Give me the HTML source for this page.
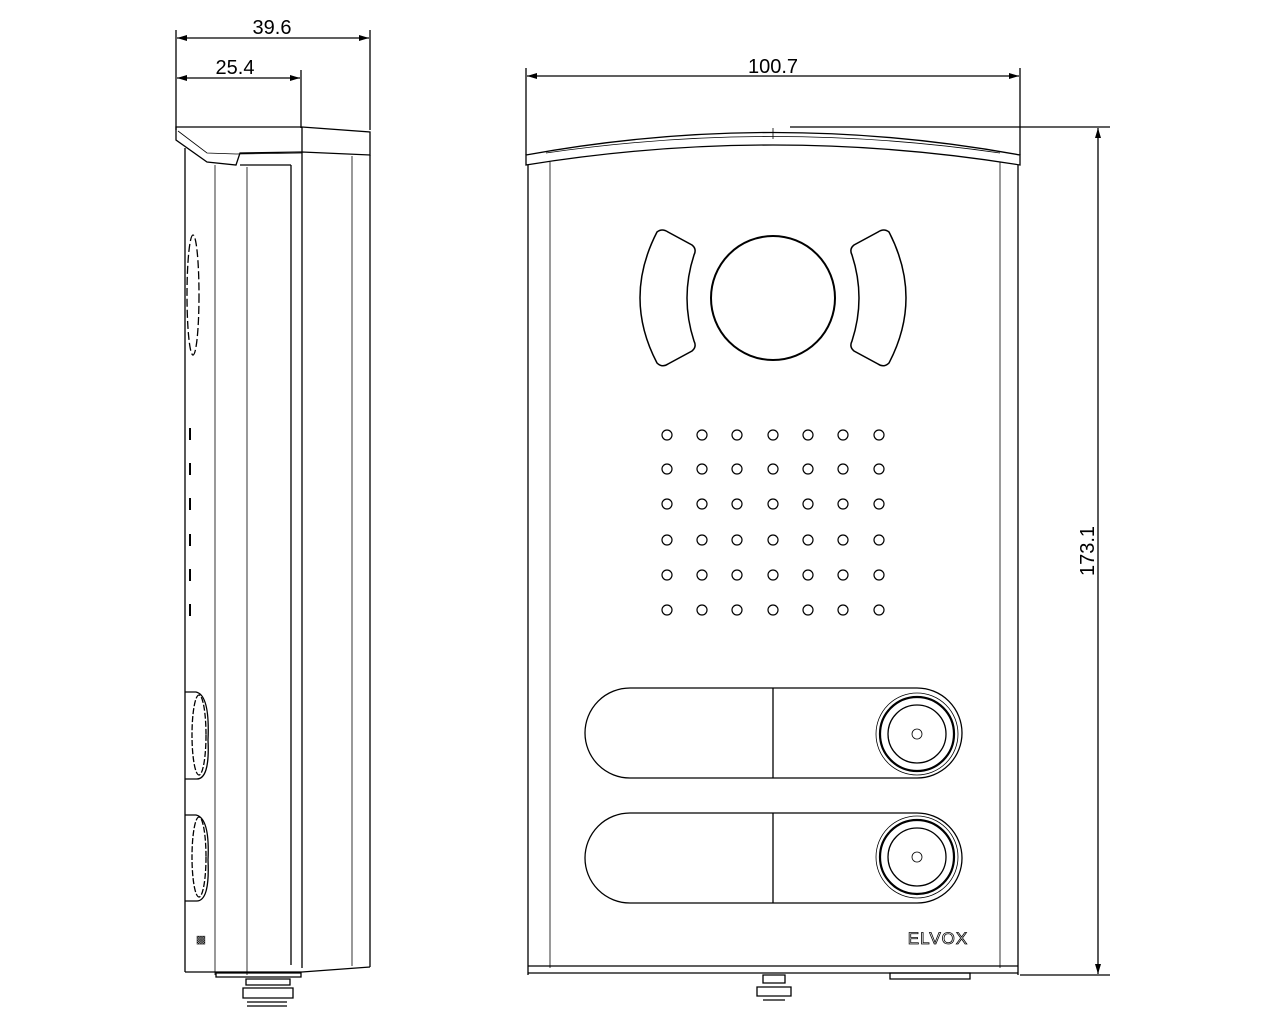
<!DOCTYPE html>
<html><head><style>body{margin:0;background:#fff}svg{display:block}</style></head><body>
<svg width="1280" height="1024" viewBox="0 0 1280 1024" xmlns="http://www.w3.org/2000/svg" font-family="Liberation Sans, sans-serif">
<defs><marker id="a" viewBox="0 0 10 6" refX="10" refY="3" markerWidth="18" markerHeight="6" markerUnits="userSpaceOnUse" orient="auto-start-reverse"><path d="M0,0L10,3L0,6z" fill="#000"/></marker></defs>
<g stroke="#000" stroke-width="1.3" fill="none">
<line x1="176" y1="30" x2="176" y2="130"/><line x1="370" y1="30" x2="370" y2="130"/><line x1="301" y1="70" x2="301" y2="128"/>
<line x1="177" y1="38" x2="369" y2="38" marker-start="url(#a)" marker-end="url(#a)"/>
<line x1="177" y1="78" x2="300" y2="78" marker-start="url(#a)" marker-end="url(#a)"/>
<line x1="526" y1="68" x2="526" y2="155"/><line x1="1020" y1="68" x2="1020" y2="155"/>
<line x1="527" y1="76" x2="1019" y2="76" marker-start="url(#a)" marker-end="url(#a)"/>
<line x1="790" y1="127" x2="1110" y2="127"/><line x1="1020" y1="975" x2="1110" y2="975"/>
<line x1="1098" y1="128" x2="1098" y2="974" marker-start="url(#a)" marker-end="url(#a)"/>
<path d="M176,127 L302,127 L370,132 L370,155 L302,152 L240,153 L236,165 L207,162 L176,140 Z"/>
<path d="M178,131 L207,153 L236,154 L302,153" stroke-width="0.8"/>
<line x1="302" y1="127" x2="302" y2="968"/>
<line x1="185" y1="148" x2="185" y2="972"/>
<line x1="215" y1="165" x2="215" y2="975" stroke-width="0.8"/>
<line x1="247" y1="167" x2="247" y2="975" stroke-width="0.8"/>
<line x1="291" y1="165" x2="291" y2="965"/>
<line x1="352" y1="156" x2="352" y2="966" stroke-width="0.8"/>
<line x1="370" y1="155" x2="370" y2="967"/>
<line x1="240" y1="165" x2="291" y2="165"/>
<path d="M185,972 L302,972 L370,967" />
<path d="M216,973 L301,973 L301,977 L216,977 Z"/>
<ellipse cx="193" cy="295" rx="6" ry="60" stroke-dasharray="8,3"/>
<g stroke-width="2"><line x1="190" y1="428" x2="190" y2="440"/><line x1="190" y1="463" x2="190" y2="475"/><line x1="190" y1="498" x2="190" y2="510"/><line x1="190" y1="534" x2="190" y2="546"/><line x1="190" y1="569" x2="190" y2="581"/><line x1="190" y1="604" x2="190" y2="616"/></g>
<path d="M185,692 L196,692 Q210,695 208,740 Q210,780 196,779 L185,779"/>
<ellipse cx="199" cy="735" rx="7" ry="40" stroke-dasharray="6,2"/>
<path d="M185,815 L196,815 Q210,818 208,860 Q210,902 196,901 L185,901"/>
<ellipse cx="199" cy="857" rx="7" ry="40" stroke-dasharray="6,2"/>
<path d="M246,979 h44 v6 h-44z M243,988 h50 v10 h-50z M247,1002 h40 M247,1006 h40" />
<path d="M526,155 Q773,110 1020,155 L1020,165 Q773,125 526,165 Z"/>
<path d="M546,153 Q773,120 1000,153" stroke-width="0.8"/>
<line x1="773" y1="128" x2="773" y2="139" stroke-width="0.8"/>
<line x1="528" y1="165" x2="528" y2="975"/><line x1="1018" y1="165" x2="1018" y2="975"/>
<line x1="550" y1="162" x2="550" y2="968" stroke-width="0.8"/><line x1="1000" y1="162" x2="1000" y2="968" stroke-width="0.8"/>
<line x1="528" y1="966" x2="1018" y2="966"/><line x1="528" y1="973" x2="1018" y2="973"/>
<path d="M890,973 h80 v6 h-80z"/>
<path d="M763,975 h22 v8 h-22z M757,987 h34 v9 h-34z M763,1000 h22"/>
<circle cx="773" cy="298" r="62" stroke-width="2"/>
<path d="M657,232 Q662,228 668,232 L692,245 Q697,249 694,255 Q680,298 694,341 Q697,347 692,351 L668,364 Q662,368 657,363 Q623,298 657,232 Z" stroke-width="1.5"/>
<path d="M889,232 Q884,228 878,232 L854,245 Q849,249 852,255 Q866,298 852,341 Q849,347 854,351 L878,364 Q884,368 889,363 Q923,298 889,232 Z" stroke-width="1.5"/>
<g>
<path d="M630,688 L917,688 A45,45 0 0 1 917,778 L630,778 A45,45 0 0 1 630,688 Z"/>
<line x1="773" y1="688" x2="773" y2="778"/>
<circle cx="917" cy="734" r="41" stroke-width="0.8"/><circle cx="917" cy="734" r="37" stroke-width="2.2"/><circle cx="917" cy="734" r="29"/><circle cx="917" cy="734" r="5" stroke-width="0.8"/>
<path d="M630,813 L917,813 A45,45 0 0 1 917,903 L630,903 A45,45 0 0 1 630,813 Z"/>
<line x1="773" y1="813" x2="773" y2="903"/>
<circle cx="917" cy="857" r="41" stroke-width="0.8"/><circle cx="917" cy="857" r="37" stroke-width="2.2"/><circle cx="917" cy="857" r="29"/><circle cx="917" cy="857" r="5" stroke-width="0.8"/>
</g>
<g stroke-width="1.2">
<g id="r"><circle cx="667" cy="435" r="5"/><circle cx="702" cy="435" r="5"/><circle cx="737" cy="435" r="5"/><circle cx="773" cy="435" r="5"/><circle cx="808" cy="435" r="5"/><circle cx="843" cy="435" r="5"/><circle cx="879" cy="435" r="5"/></g>
<use href="#r" y="34"/><use href="#r" y="69"/><use href="#r" y="105"/><use href="#r" y="140"/><use href="#r" y="175"/>
</g>
</g>
<g font-size="20" fill="#000" font-family="Liberation Sans Narrow, Liberation Sans, sans-serif">
<text x="272" y="34" text-anchor="middle">39.6</text>
<text x="235" y="74" text-anchor="middle">25.4</text>
<text x="773" y="73" text-anchor="middle">100.7</text>
<text transform="translate(1094,551) rotate(-90)" text-anchor="middle">173.1</text>
<text x="938" y="944" text-anchor="middle" font-size="17" fill="none" stroke="#000" stroke-width="0.8" letter-spacing="1">ELVOX</text>
<text x="201" y="943" text-anchor="middle" font-size="11">▩</text>
</g>
</svg>
</body></html>
